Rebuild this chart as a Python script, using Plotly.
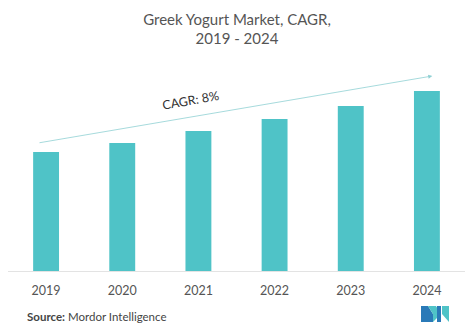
import plotly.graph_objects as go

years = ["2019", "2020", "2021", "2022", "2023", "2024"]
values = [119, 128, 140, 152, 165, 180]
title_text = "Greek Yogurt Market, CAGR,<br>2019 - 2024"
cagr_label = "CAGR: 8%"
source_bold = "Source:"
source_rest = "Mordor Intelligence"

W, H = 474, 333
ML, MR, MT, MB = 8, 9, 60, 62
PW = W - ML - MR
PH = H - MT - MB

def px(x):
    return (x - ML) / PW

def py(y):
    return (H - MB - y) / PH

fig = go.Figure()
fig.add_trace(go.Bar(x=years, y=values, marker_color="#4fc3c7", marker_line_width=0,
                     width=0.34, hoverinfo="skip"))

fig.update_layout(
    width=W, height=H,
    margin=dict(l=ML, r=MR, t=MT, b=MB),
    paper_bgcolor="white", plot_bgcolor="white",
    showlegend=False,
    font=dict(family="Lato, Open Sans, sans-serif", color="#555555"),
    title=dict(text=title_text, x=0.5, xanchor="center", y=0.925, yanchor="top",
               font=dict(size=15, color="#555555")),
    xaxis=dict(showgrid=False, showline=True, linecolor="#e3e3e3", linewidth=1,
               ticks="", ticklabelstandoff=8, tickfont=dict(size=12.5, color="#555555"),
               fixedrange=True),
    yaxis=dict(range=[0, PH], visible=False, fixedrange=True),
)

# CAGR arrow
fig.add_annotation(x=5.07, y=195, ax=-0.106, ay=128, xref="x", yref="y", axref="x", ayref="y",
                   text="", showarrow=True, arrowhead=2, arrowsize=1, arrowwidth=0.8,
                   arrowcolor="#8fd0d3")
fig.add_annotation(x=1.89, y=171, xref="x", yref="y", text=cagr_label, showarrow=False,
                   textangle=-10, font=dict(size=12.5, color="#333333"))

# Source
fig.add_annotation(x=px(25), y=py(316), xref="paper", yref="paper", xanchor="left", yanchor="middle",
                   text=f"<b>{source_bold}</b> {source_rest}", showarrow=False,
                   font=dict(size=11.5, color="#444444"))

# Logo (approximate)
def poly(pts, color):
    d = "M " + " L ".join(f"{px(a)},{py(b)}" for a, b in pts) + " Z"
    fig.add_shape(type="path", path=d, xref="paper", yref="paper", fillcolor=color, line_width=0)

poly([(421, 322), (421, 306), (428, 306), (433, 314), (433, 322)], "#2a7ab8")
poly([(428, 306), (436, 306), (441, 314), (433, 322), (433, 314)], "#4fc3c7")
poly([(437, 322), (437, 306), (441, 306), (441, 322)], "#2a7ab8")
poly([(442, 306), (449, 306), (449, 322), (442, 314)], "#4fc3c7")

fig.write_html("out.html")
